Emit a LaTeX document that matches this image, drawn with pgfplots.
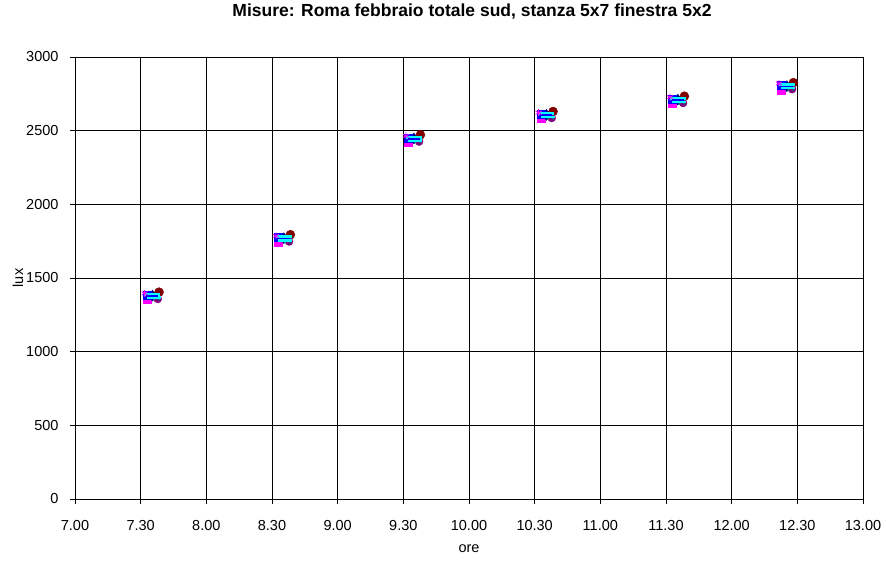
\documentclass[border=0pt]{standalone}
\usepackage{fontspec}
\setmainfont{Liberation Sans}
\usepackage{pgfplots}
\pgfplotsset{compat=1.18}
\definecolor{xnavy}{HTML}{000080}
\definecolor{xmag}{HTML}{FF00FF}
\definecolor{xcyan}{HTML}{00FFFF}
\definecolor{xpurp}{HTML}{800080}
\definecolor{xmaroon}{HTML}{800000}
\definecolor{xteal}{HTML}{008080}
\definecolor{xblue}{HTML}{0000FF}
\begin{document}
\begin{tikzpicture}
\begin{axis}[
  at={(0,0)}, anchor=south west,
  scale only axis, width=788pt, height=442pt,
  xmin=7, xmax=13, ymin=0, ymax=3000,
  xtick={7,7.5,...,13},
  xticklabels={7.00,7.30,8.00,8.30,9.00,9.30,10.00,10.30,11.00,11.30,12.00,12.30,13.00},
  ytick={0,500,...,3000},
  yticklabel style={/pgf/number format/fixed,/pgf/number format/1000 sep={}},
  /pgf/number format/assume math mode=true,
  ticklabel style={font=\fontsize{14.5}{16}\selectfont},
  xticklabel style={anchor=center, yshift=-22pt},
  yticklabel style={anchor=east, xshift=-8pt},
  tick align=outside, tick pos=left, major tick length=5pt,
  grid=major, major grid style={black, line width=0.7pt},
  axis line style={black, line width=0.7pt},
  tick style={black, line width=0.7pt},
  xlabel={ore}, ylabel={lux},
  label style={font=\fontsize{14.5}{16}\selectfont},
  xlabel style={at={(axis description cs:0.5,0)}, anchor=center, yshift=-50pt},
  ylabel style={at={([xshift=-57pt]axis description cs:0,0.5)}, anchor=center, rotate=0},
  title={\textbf{Misure: Roma febbraio totale sud, stanza 5x7 finestra 5x2}},
  title style={font=\fontsize{17.5}{20}\selectfont, at={(axis description cs:0.5,1)}, anchor=center, yshift=39pt, xshift=3pt},
  clip=false,
]
\addplot[only marks, mark=*, mark size=4.5pt, color=xmaroon] coordinates {(7.64,1404) (8.64,1794) (9.63,2472) (10.64,2630) (11.64,2734) (12.47,2826)};
\addplot[only marks, mark=square*, mark size=4pt, color=xmag] coordinates {(7.55,1354) (8.55,1746) (9.54,2420) (10.55,2584) (11.55,2686) (12.38,2778)};
\addplot[only marks, mark=diamond*, mark size=5.5pt, color=xnavy] coordinates {(7.59,1380) (8.59,1770) (9.58,2447) (10.59,2607) (11.59,2710) (12.42,2802)};
\addplot[only marks, mark=square*, mark size=4pt, color=xblue] coordinates {(7.55,1386) (8.55,1774) (9.54,2452) (10.55,2614) (11.55,2715) (12.38,2808)};
\addplot[only marks, mark=*, mark size=4pt, color=xpurp] coordinates {(7.63,1358) (8.63,1748) (9.62,2426) (10.63,2586) (11.63,2688) (12.46,2782)};
\addplot[only marks, mark=x, mark size=4.5pt, line width=1.2pt, color=xteal] coordinates {(7.62,1370) (8.62,1760) (9.61,2438) (10.62,2598) (11.62,2700) (12.45,2793)};
\addplot[only marks, mark=-, mark size=8pt, line width=3pt, color=xcyan] coordinates {(7.59,1390) (8.59,1780) (9.58,2457) (10.59,2617) (11.59,2720) (12.42,2812)};
\addplot[only marks, mark=-, mark size=7pt, line width=2.5pt, color=xcyan] coordinates {(7.60,1366) (8.60,1756) (9.59,2434) (10.60,2594) (11.60,2696) (12.43,2790)};
\addplot[only marks, mark=-, mark size=6pt, line width=1.5pt, color=xblue] coordinates {(7.59,1377) (8.59,1767) (9.58,2445) (10.59,2605) (11.59,2707) (12.42,2800)};
\addplot[only marks, mark=asterisk, mark size=3.5pt, line width=0.8pt, color=xmag] coordinates {(7.53,1396) (8.53,1786) (9.52,2464) (10.53,2622) (11.53,2727) (12.36,2820)};
\end{axis}
\pgfresetboundingbox
\path (-75pt,-64pt) rectangle (811pt,499pt);
\end{tikzpicture}
\end{document}
